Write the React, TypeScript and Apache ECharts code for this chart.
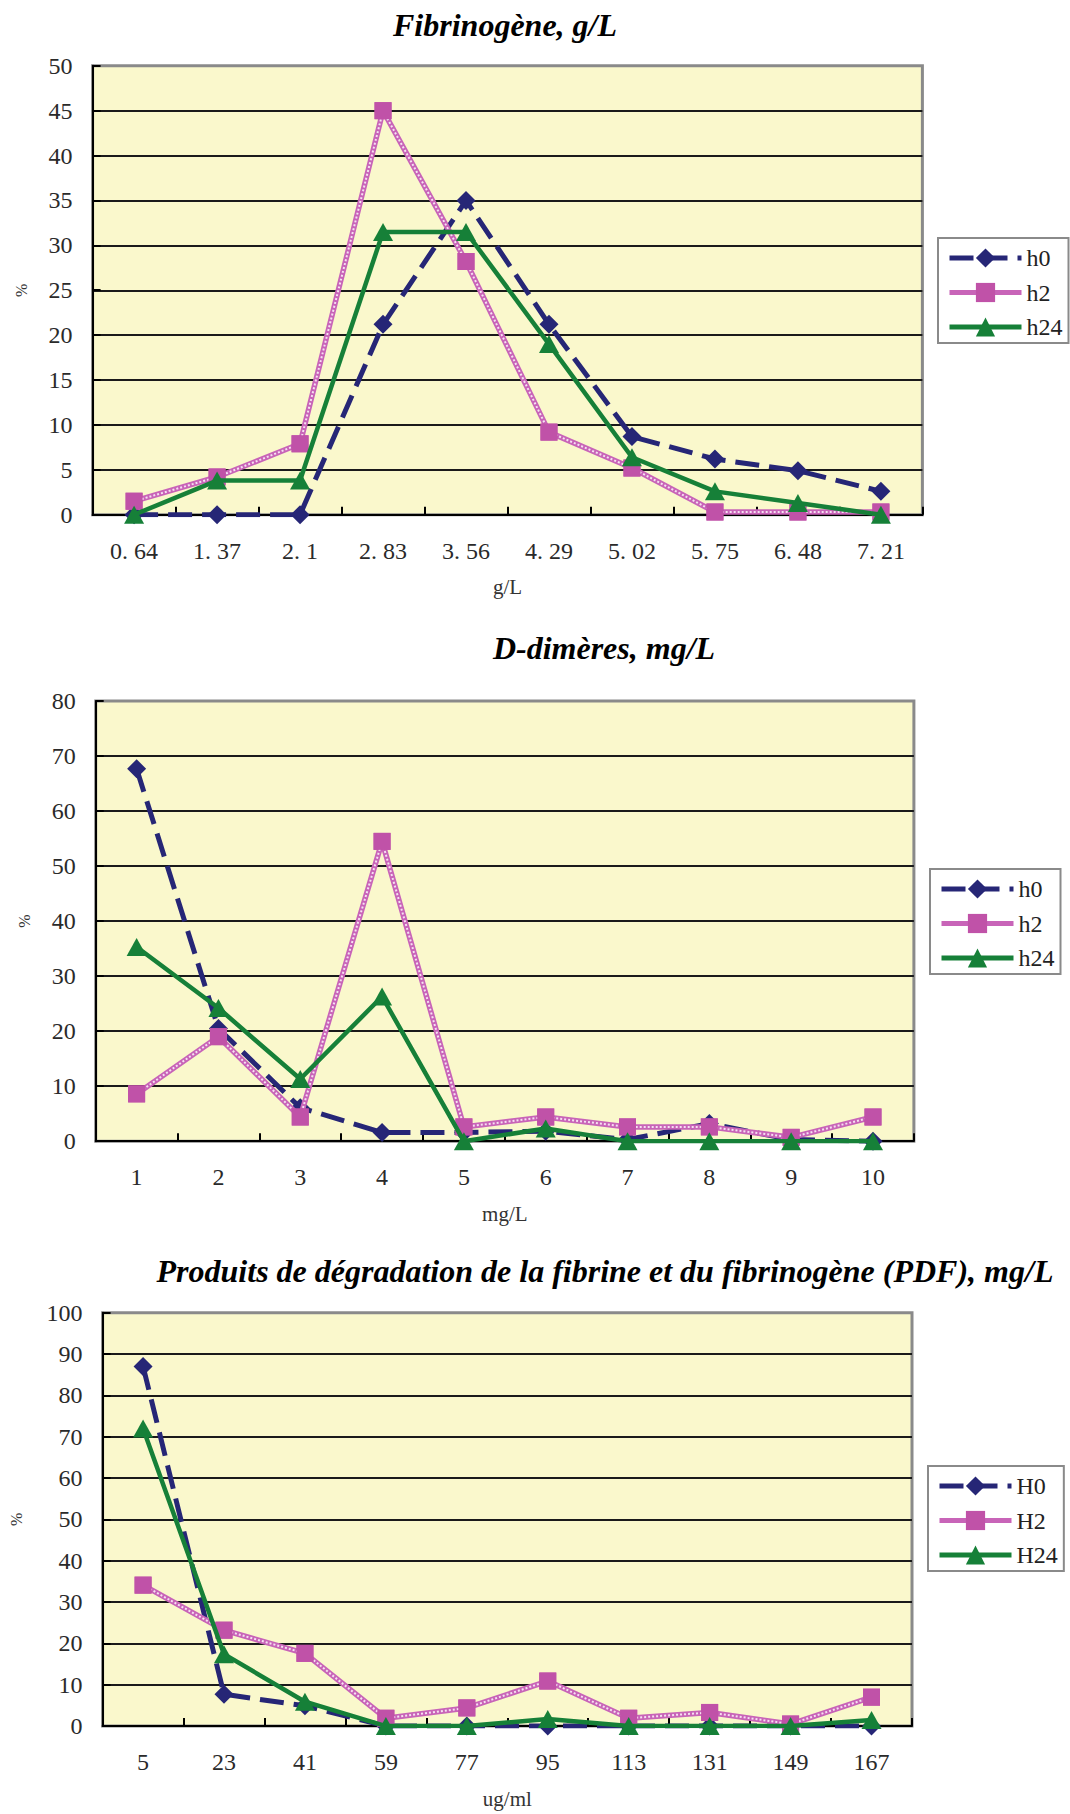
import React, { useEffect, useRef } from "react";
import * as echarts from "echarts";

// ---- Data ----
const fibCategories = ["0.64", "1.37", "2.1", "2.83", "3.56", "4.29", "5.02", "5.75", "6.48", "7.21"];
const fibH0 = [0, 0, 0, 21.2, 35, 21.2, 8.7, 6.2, 4.9, 2.6];
const fibH2 = [1.5, 4.2, 7.9, 45, 28.2, 9.2, 5.2, 0.3, 0.3, 0.3];
const fibH24 = [0, 3.8, 3.8, 31.5, 31.5, 19, 6.4, 2.6, 1.3, 0];

const ddCategories = ["1", "2", "3", "4", "5", "6", "7", "8", "9", "10"];
const ddH0 = [67.7, 20.5, 6.1, 1.6, 1.6, 1.8, 0.3, 3.2, 0.3, 0];
const ddH2 = [8.6, 19, 4.4, 54.5, 2.6, 4.4, 2.6, 2.6, 0.7, 4.4];
const ddH24 = [35.3, 24.2, 11.3, 26.3, 0, 2.3, 0, 0, 0, 0];

const pdfCategories = ["5", "23", "41", "59", "77", "95", "113", "131", "149", "167"];
const pdfH0 = [87, 7.7, 4.9, 0, 0, 0, 0, 0, 0, 0];
const pdfH2 = [34.1, 23.2, 17.6, 1.9, 4.4, 10.9, 1.9, 3.3, 0.5, 7];
const pdfH24 = [72, 17.4, 5.9, 0, 0, 1.7, 0, 0, 0, 1.5];

const titles = [
  "Fibrinogène, g/L",
  "D-dimères, mg/L",
  "Produits de dégradation de la fibrine et du fibrinogène (PDF), mg/L",
];
const xNames = ["g/L", "mg/L", "ug/ml"];
const legendNames1 = ["h0", "h2", "h24"];
const legendNames3 = ["H0", "H2", "H24"];
const yMax = [50, 80, 100];
const yInterval = [5, 10, 10];

// ---- Styles ----
const NAVY = "#262676";
const MAG = "#C052A8";
const MAG_LINE = "#C864B8";
const MAG_INNER = "#F6E0F2";
const GREEN = "#168038";
const BG = "#FAF8CC";
const SERIF = '"Liberation Serif", "Times New Roman", serif';

const grids = [
  { left: 92.6, top: 65.8, width: 829.8, height: 448.9 },
  { left: 95.7, top: 701.1, width: 818.2, height: 440.1 },
  { left: 102.6, top: 1312.7, width: 809.4, height: 413.4 },
];
const titlePos = [
  { x: 505, y: 25 },
  { x: 604, y: 648 },
  { x: 605, y: 1271 },
];
const legendPos = [
  { left: 938, top: 238 },
  { left: 930, top: 869 },
  { left: 928, top: 1466 },
];
const yNameGap = [63, 63, 78];

export default function App() {
  const ref = useRef<HTMLDivElement>(null);
  useEffect(() => {
    if (!ref.current) return;
    const chart = echarts.init(ref.current, undefined, { renderer: "svg" });
    const cats = [fibCategories, ddCategories, pdfCategories];
    const data = [
      [fibH0, fibH2, fibH24],
      [ddH0, ddH2, ddH24],
      [pdfH0, pdfH2, pdfH24],
    ];
    const names = [legendNames1, legendNames1, legendNames3];

    const xAxis = cats.map((c, i) => ({
      type: "category",
      gridIndex: i,
      data: c,
      boundaryGap: true,
      axisLine: { show: true, lineStyle: { color: "#000", width: 2 } },
      axisTick: { show: true, inside: true, length: 8, lineStyle: { color: "#000", width: 2 } },
      axisLabel: {
        margin: 24,
        fontSize: 24,
        fontFamily: SERIF,
        color: "#2a2a2a",
        formatter: (v: string) => v.replace(".", ". "),
      },
      splitLine: { show: false },
      name: xNames[i],
      nameLocation: "middle",
      nameGap: 62,
      nameTextStyle: { fontSize: 21, fontFamily: SERIF, color: "#333" },
    }));

    const yAxis = yMax.map((m, i) => {
      const n = m / yInterval[i] + 1;
      const colors: string[] = [];
      for (let k = 0; k < n; k++) colors.push(k === n - 1 ? "#8a8a8a" : "#1a1a1a");
      return {
        type: "value",
        gridIndex: i,
        min: 0,
        max: m,
        interval: yInterval[i],
        axisLine: { show: true, lineStyle: { color: "#000", width: 2 } },
        axisTick: { show: true, inside: true, length: 8, lineStyle: { color: "#000", width: 2 } },
        axisLabel: { margin: 20, fontSize: 24, fontFamily: SERIF, color: "#2a2a2a" },
        splitLine: { show: true, lineStyle: { color: colors, width: 2 } },
        name: "%",
        nameLocation: "middle",
        nameGap: yNameGap[i],
        nameTextStyle: { fontSize: 16, fontFamily: SERIF, color: "#333" },
      };
    });

    const series: any[] = [];
    data.forEach((d, i) => {
      const nm = names[i];
      series.push({
        type: "line",
        name: nm[0],
        xAxisIndex: i,
        yAxisIndex: i,
        data: d[0],
        symbol: "diamond",
        symbolSize: [19, 19],
        lineStyle: { color: NAVY, width: 5, type: [24, 10] },
        itemStyle: { color: NAVY },
        z: 2,
      });
      series.push({
        type: "line",
        name: nm[1],
        xAxisIndex: i,
        yAxisIndex: i,
        data: d[1],
        symbol: "rect",
        symbolSize: 17,
        lineStyle: { color: MAG_LINE, width: 5.5 },
        itemStyle: { color: MAG },
        z: 3,
      });
      series.push({
        type: "line",
        name: nm[1] + " inner",
        xAxisIndex: i,
        yAxisIndex: i,
        data: d[1],
        symbol: "rect",
        symbolSize: 17,
        lineStyle: { color: MAG_INNER, width: 2, type: [2, 2] },
        itemStyle: { color: MAG },
        silent: true,
        legendHoverLink: false,
        z: 4,
      });
      series.push({
        type: "line",
        name: nm[2],
        xAxisIndex: i,
        yAxisIndex: i,
        data: d[2],
        symbol: "triangle",
        symbolSize: [20, 18],
        lineStyle: { color: GREEN, width: 4.5 },
        itemStyle: { color: GREEN },
        z: 5,
      });
    });

    const legend = names.map((nm, i) => ({
      orient: "vertical",
      left: legendPos[i].left,
      top: legendPos[i].top,
      data: nm,
      itemWidth: 72,
      itemHeight: 24,
      itemGap: 10.5,
      padding: [8, 6, 4, 9],
      borderColor: "#8a8a8a",
      borderWidth: 2,
      backgroundColor: "#fff",
      selectedMode: false,
      lineStyle: { width: 5 },
      textStyle: { fontSize: 24, lineHeight: 24, fontFamily: SERIF, color: "#222" },
    }));

    const graphic = titles.map((t, i) => ({
      type: "text",
      x: titlePos[i].x,
      y: titlePos[i].y,
      style: {
        text: t,
        fontSize: 32,
        fontWeight: "bold",
        fontStyle: "italic",
        fontFamily: SERIF,
        fill: "#000",
        textAlign: "center",
        textVerticalAlign: "middle",
      },
    }));

    chart.setOption({
      animation: false,
      backgroundColor: "#fff",
      grid: grids.map((g) => ({
        ...g,
        show: true,
        backgroundColor: BG,
        borderColor: "#8a8a8a",
        borderWidth: 3,
        containLabel: false,
      })),
      xAxis,
      yAxis,
      legend,
      series,
      graphic,
    });
    return () => chart.dispose();
  }, []);

  return (
    <div
      ref={ref}
      style={{ position: "absolute", left: 0, top: 0, width: 1070, height: 1814 }}
    />
  );
}
